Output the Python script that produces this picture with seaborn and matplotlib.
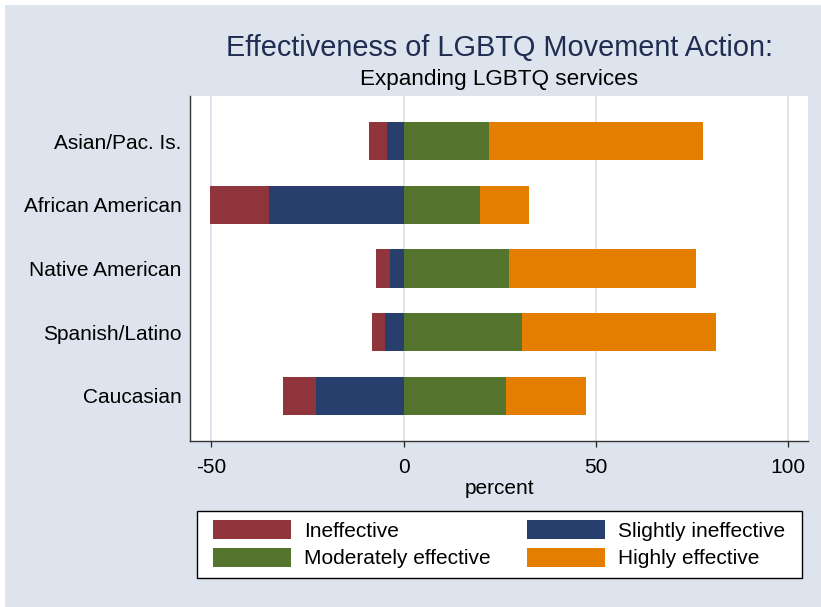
import matplotlib
matplotlib.use("Agg")
import matplotlib.pyplot as plt
from matplotlib.patches import Patch, Rectangle
import numpy as np
import pandas as pd
import seaborn as sns

# Survey responses (percent of respondents) by group
groups = ["Asian/Pac. Is.", "African American", "Native American",
          "Spanish/Latino", "Caucasian"]
ineffective = [4.6, 15.2, 3.7, 3.5, 8.7]
slightly_ineffective = [4.4, 35.0, 3.4, 4.8, 22.7]
moderately_effective = [22.1, 19.9, 27.5, 30.9, 26.5]
highly_effective = [55.7, 12.8, 48.4, 50.3, 20.8]

# Legend entries in column-major order so rows read across
legend_labels = ["Ineffective", "Moderately effective",
                 "Slightly ineffective", "Highly effective"]
colors = {"Ineffective": "#90353B", "Slightly ineffective": "#283F6D",
          "Moderately effective": "#55752F", "Highly effective": "#E37E00"}

df = pd.DataFrame({
    "group": groups,
    "ineff": ineffective,
    "slight": slightly_ineffective,
    "moder": moderately_effective,
    "high": highly_effective,
})
# Cumulative ends of the diverging stacks; the outer segment is drawn first
# and the inner one on top of it.
df["neg_outer"] = -(df["ineff"] + df["slight"])
df["neg_inner"] = -df["slight"]
df["pos_outer"] = df["moder"] + df["high"]
df["pos_inner"] = df["moder"]

plt.rcParams["font.family"] = ["Liberation Sans", "DejaVu Sans"]
bg = "#DDE4EE"
W, H = 821, 607

fig = plt.figure(figsize=(W / 100, H / 100), dpi=100, facecolor="white")
fig.patches.append(Rectangle((5 / W, 0), 1, (H - 5) / H,
                             transform=fig.transFigure, facecolor=bg,
                             edgecolor="none", zorder=-10))

ax = fig.add_axes([190 / W, (H - 441) / H, (808 - 190) / W, (441 - 96) / H])
ax.set_facecolor("white")

for col, lab in [("neg_outer", "Ineffective"),
                 ("neg_inner", "Slightly ineffective"),
                 ("pos_outer", "Highly effective"),
                 ("pos_inner", "Moderately effective")]:
    sns.barplot(data=df, x=col, y="group", orient="h", order=groups,
                color=colors[lab], saturation=1, width=0.6, linewidth=0,
                ax=ax, zorder=3)

ax.set_xlim(-55.5, 105.1)
ax.set_ylim(4.715, -0.715)
ax.set_xticks([-50, 0, 50, 100])
ax.set_xticklabels(["-50", "0", "50", "100"])
ax.grid(axis="x", color="#D3DDEA", linewidth=1.1, zorder=0)
ax.set_axisbelow(True)

ax.tick_params(axis="x", length=4.5, width=0.9, color="#222222",
               labelsize=15, pad=8, labelcolor="black")
ax.tick_params(axis="y", length=0, labelsize=15, pad=6, labelcolor="black")
ax.set_ylabel("")
ax.set_xlabel("percent", fontsize=15, labelpad=1)

for side in ["top", "right"]:
    ax.spines[side].set_visible(False)
for side in ["left", "bottom"]:
    ax.spines[side].set_color("#333333")
    ax.spines[side].set_linewidth(1.0)

fig.text(499 / W, (H - 48) / H, "Effectiveness of LGBTQ Movement Action:",
         ha="center", va="center", fontsize=20.8, color="#1F2D50")
fig.text(499 / W, (H - 80) / H, "Expanding LGBTQ services",
         ha="center", va="center", fontsize=16.2, color="black")

# Legend box
fig.patches.append(Rectangle((197 / W, 29 / H), 605 / W, 67 / H,
                             transform=fig.transFigure, facecolor="white",
                             edgecolor="black", linewidth=1.0, zorder=1))
handles = [Patch(facecolor=colors[l], edgecolor="none") for l in legend_labels]
leg = fig.legend(handles, legend_labels, ncol=2, loc="lower left",
                 bbox_to_anchor=(213 / W, 38.5 / H), fontsize=15,
                 frameon=False, handlelength=3.75, handleheight=1.0,
                 handletextpad=0.63, columnspacing=1.73, labelspacing=0.35,
                 borderpad=0, borderaxespad=0)
leg.set_zorder(2)

fig.savefig("out.png", dpi=100, facecolor=fig.get_facecolor())
